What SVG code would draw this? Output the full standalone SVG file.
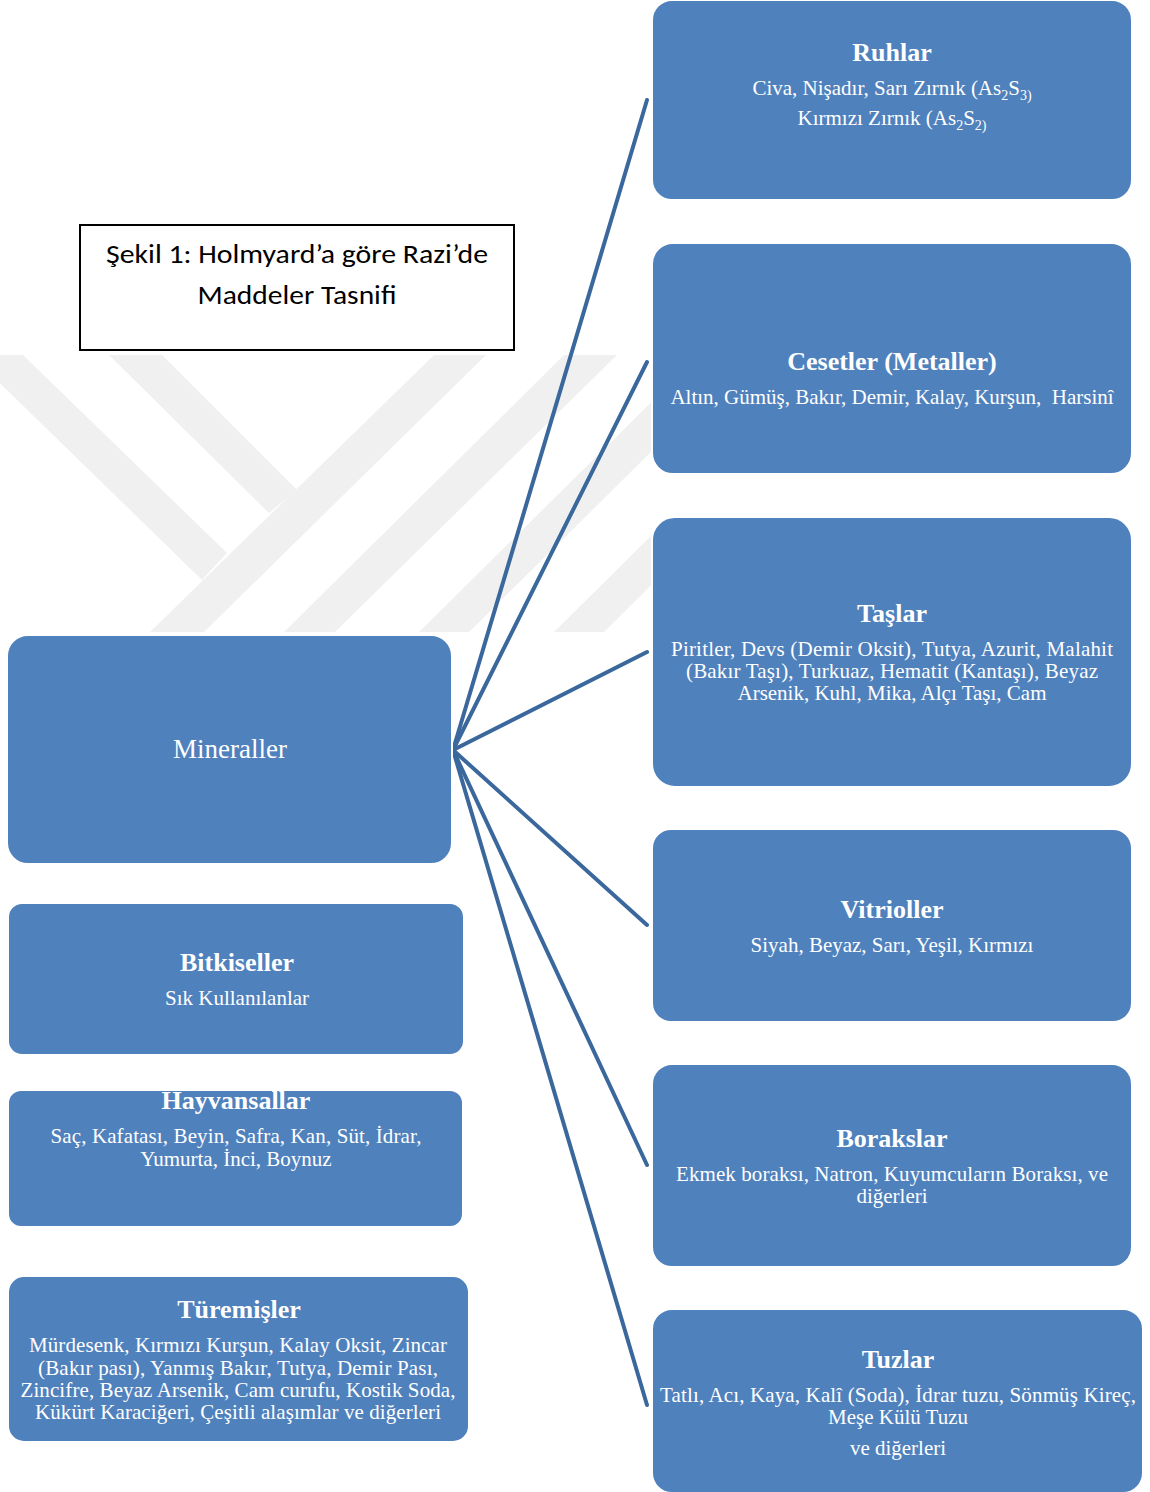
<svg xmlns="http://www.w3.org/2000/svg" width="1150" height="1492" viewBox="0 0 1150 1492">
<style>
  .box { fill: #4f81bd; stroke: #ffffff; stroke-width: 2; }
  .t { font-family: "Liberation Serif", "Times New Roman", serif; fill: #ffffff; text-anchor: middle; }
  .h { font-size: 26px; font-weight: bold; }
  .b { font-size: 21px; }
  .sub { font-size: 14px; }
  .conn line { stroke: #3b689c; stroke-width: 4; stroke-linecap: round; }
  .wm { fill: #f0f0f0; }
  .cap { font-family: Carlito, Calibri, Lato, "Liberation Sans", sans-serif; font-size: 26px; fill: #000000; text-anchor: middle; }
</style>
<defs>
  <clipPath id="wmclip"><rect x="0" y="355" width="652" height="277"/></clipPath>
</defs>
<rect width="1150" height="1492" fill="#ffffff"/>

<g id="watermark" clip-path="url(#wmclip)">
  <polygon class="wm" points="-29,355 23,355 227,553 202,580"/>
  <polygon class="wm" points="109,355 162,355 297,490 269,513"/>
  <polygon class="wm" points="150,632 434,355 486,355 204,632"/>
  <polygon class="wm" points="284,632 564,355 617,355 335,632"/>
  <polygon class="wm" points="419,632 699,355 749,355 469,632"/>
  <polygon class="wm" points="554,632 834,355 884,355 604,632"/>
</g>

<g id="caption">
  <rect x="80" y="225" width="434" height="125" fill="#ffffff" stroke="#000000" stroke-width="2"/>
  <text class="cap" x="297" y="263" textLength="382" lengthAdjust="spacingAndGlyphs">Şekil 1: Holmyard’a göre Razi’de</text>
  <text class="cap" x="297" y="304" textLength="199" lengthAdjust="spacingAndGlyphs">Maddeler Tasnifi</text>
</g>

<g id="connectors" class="conn">
  <line x1="453" y1="750" x2="647" y2="100"/>
  <line x1="453" y1="750" x2="647" y2="362"/>
  <line x1="453" y1="750" x2="647" y2="652"/>
  <line x1="453" y1="750" x2="647" y2="925"/>
  <line x1="453" y1="750" x2="647" y2="1165"/>
  <line x1="453" y1="750" x2="647" y2="1405"/>
</g>

<g id="mineraller">
  <rect class="box" x="7" y="635" width="445" height="229" rx="21"/>
  <text class="t" x="230" y="758" font-size="27">Mineraller</text>
</g>

<g id="bitkiseller">
  <rect class="box" x="8" y="903" width="456" height="152" rx="14"/>
  <text class="t h" x="237" y="971">Bitkiseller</text>
  <text class="t b" x="237" y="1005">Sık Kullanılanlar</text>
</g>

<g id="hayvansallar">
  <rect class="box" x="8" y="1090" width="455" height="137" rx="13"/>
  <text class="t h" x="236" y="1109">Hayvansallar</text>
  <text class="t b" x="236" y="1143" textLength="371" lengthAdjust="spacing">Saç, Kafatası, Beyin, Safra, Kan, Süt, İdrar,</text>
  <text class="t b" x="236" y="1166">Yumurta, İnci, Boynuz</text>
</g>

<g id="turemisler">
  <rect class="box" x="8" y="1276" width="461" height="166" rx="16"/>
  <text class="t h" x="239" y="1318">Türemişler</text>
  <text class="t b" x="238" y="1352" textLength="418" lengthAdjust="spacing">Mürdesenk, Kırmızı Kurşun, Kalay Oksit, Zincar</text>
  <text class="t b" x="238" y="1375" textLength="400" lengthAdjust="spacing">(Bakır pası), Yanmış Bakır, Tutya, Demir Pası,</text>
  <text class="t b" x="238" y="1397" textLength="435" lengthAdjust="spacing">Zincifre, Beyaz Arsenik, Cam curufu, Kostik Soda,</text>
  <text class="t b" x="238" y="1419" textLength="406" lengthAdjust="spacing">Kükürt Karaciğeri, Çeşitli alaşımlar ve diğerleri</text>
</g>

<g id="ruhlar">
  <rect class="box" x="652" y="0" width="480" height="200" rx="20"/>
  <text class="t h" x="892" y="61">Ruhlar</text>
  <text class="t b" x="892" y="95">Civa, Nişadır, Sarı Zırnık (As<tspan class="sub" dy="5">2</tspan><tspan dy="-5">S</tspan><tspan class="sub" dy="5">3)</tspan></text>
  <text class="t b" x="892" y="125">Kırmızı Zırnık (As<tspan class="sub" dy="5">2</tspan><tspan dy="-5">S</tspan><tspan class="sub" dy="5">2)</tspan></text>
</g>

<g id="cesetler">
  <rect class="box" x="652" y="243" width="480" height="231" rx="21"/>
  <text class="t h" x="892" y="370">Cesetler (Metaller)</text>
  <text class="t b" x="892" y="404" xml:space="preserve">Altın, Gümüş, Bakır, Demir, Kalay, Kurşun,  Harsinî</text>
</g>

<g id="taslar">
  <rect class="box" x="652" y="517" width="480" height="270" rx="23"/>
  <text class="t h" x="892" y="622">Taşlar</text>
  <text class="t b" x="892" y="656" textLength="442" lengthAdjust="spacing">Piritler, Devs (Demir Oksit), Tutya, Azurit, Malahit</text>
  <text class="t b" x="892" y="678" textLength="412" lengthAdjust="spacing">(Bakır Taşı), Turkuaz, Hematit (Kantaşı), Beyaz</text>
  <text class="t b" x="892" y="700">Arsenik, Kuhl, Mika, Alçı Taşı, Cam</text>
</g>

<g id="vitrioller">
  <rect class="box" x="652" y="829" width="480" height="193" rx="19"/>
  <text class="t h" x="892" y="918">Vitrioller</text>
  <text class="t b" x="892" y="952">Siyah, Beyaz, Sarı, Yeşil, Kırmızı</text>
</g>

<g id="borakslar">
  <rect class="box" x="652" y="1064" width="480" height="203" rx="20"/>
  <text class="t h" x="892" y="1147">Borakslar</text>
  <text class="t b" x="892" y="1181" textLength="432" lengthAdjust="spacing">Ekmek boraksı, Natron, Kuyumcuların Boraksı, ve</text>
  <text class="t b" x="892" y="1203">diğerleri</text>
</g>

<g id="tuzlar">
  <rect class="box" x="652" y="1309" width="491" height="184" rx="20"/>
  <text class="t h" x="898" y="1368">Tuzlar</text>
  <text class="t b" x="898" y="1402" textLength="476" lengthAdjust="spacing">Tatlı, Acı, Kaya, Kalî (Soda), İdrar tuzu, Sönmüş Kireç,</text>
  <text class="t b" x="898" y="1424">Meşe Külü Tuzu</text>
  <text class="t b" x="898" y="1455">ve diğerleri</text>
</g>
</svg>
